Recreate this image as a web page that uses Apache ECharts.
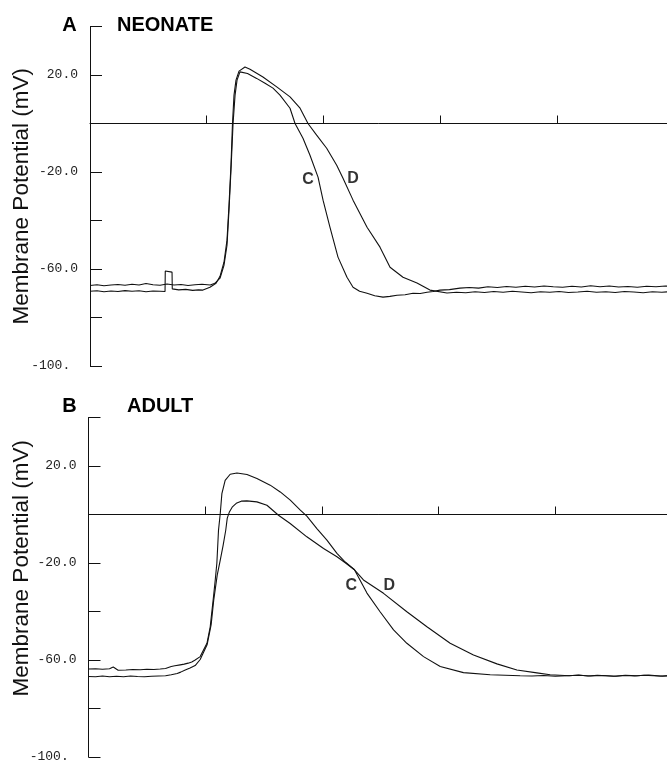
<!DOCTYPE html>
<html>
<head>
<meta charset="utf-8">
<script src="https://cdn.jsdelivr.net/npm/echarts@6/dist/echarts.min.js"></script>
<style>
  html, body { margin: 0; padding: 0; background: #fff; }
  #main { width: 667px; height: 763px; }
</style>
</head>
<body>
<div id="main"></div>
<script>
// time (ms) and membrane potential (mV)
// A: neonate
var neoC_t = [0, 6, 12, 18, 24, 30, 36, 42, 48, 54, 60, 66, 72, 78, 84, 90, 96,
  103, 107, 111.4, 114.8, 117.4, 119.1, 120.8, 122.6, 124.3, 126, 128.5,
  135, 142.8, 150, 156.8, 162.8, 171.4, 175.7, 182.5, 188.5, 195.4, 199.7, 205.6, 212.5, 220.2, 225.4, 231, 237.4, 244, 251.1, 257, 263.1, 270, 276.8, 283, 288.8, 294, 299.9, 308, 317,
  325, 333, 341, 349, 357, 365, 373, 381, 389, 397, 405, 413, 421, 429, 437, 445, 453, 461, 469, 477, 485, 493, 500]
var neoC_v = [-66.8, -66.5, -66.9, -66.6, -66.4, -66.7, -66.3, -66.6, -66.0, -66.5, -66.7, -66.2, -66.6, -66.4, -66.8, -66.5, -66.3,
  -66.6, -65.9, -63.8, -58.5, -50.2, -35.8, -19.3, 0.1, 11.7, 17.9, 21.3,
  20.6, 18.6, 16.6, 14.6, 11.7, 6.3, 0, -6.1, -13.1, -22.1, -31.6, -42.7, -55.1, -63.4, -67.5, -69.2, -70.0, -71.0, -71.6, -71.3, -70.8, -70.6, -70.0, -70.1, -69.6, -69.3, -68.7, -68.5, -67.9,
  -67.6, -67.9, -67.3, -67.6, -67.2, -67.5, -67.1, -67.4, -67.0, -67.3, -67.5, -67.1, -67.4, -66.9, -67.3, -67.0, -67.4, -67.2, -67.5, -67.1, -67.3, -67.0, -67.2]

var neoD_t = [0, 6, 12, 18, 24, 30, 36, 42, 48, 54, 60, 64.3, 64.5, 70.3, 70.5, 76, 82, 88, 93,
  96.8, 102.8, 108, 111.4, 114.8, 117.4, 119.1, 120.8, 122.1, 123.4, 125.1, 127.7, 132.8,
  137.1, 148.2, 160, 171.4, 180, 186.8, 194.2, 202.8, 211.4, 216.8, 225.4, 237.4, 248.5, 257.1, 268.2, 280.2, 291.3, 305.9,
  314, 322, 330, 338, 346, 354, 362, 370, 378, 386, 394, 402, 410, 418, 426, 434, 442, 450, 458, 466, 474, 482, 490, 498, 500]
var neoD_v = [-69.2, -69.0, -69.4, -69.1, -69.3, -68.9, -69.2, -69.0, -69.4, -69.1, -69.2, -69.3, -60.8, -61.3, -68.2, -68.6, -68.4, -68.8, -68.6,
  -68.7, -67.5, -65.9, -63.0, -57.2, -48.1, -33.7, -17.2, 0.1, 11.7, 17.9, 21.6, 23.3,
  22.4, 19.2, 15.1, 11.0, 6.3, 0, -4.8, -10.2, -17.2, -22.6, -31.6, -42.8, -51.0, -59.3, -63.4, -65.8, -68.7, -69.9,
  -69.6, -69.8, -69.4, -69.7, -69.3, -69.6, -69.2, -69.5, -69.8, -69.4, -69.6, -69.3, -69.7, -69.5, -69.2, -69.6, -69.4, -69.7, -69.3, -69.5, -69.8, -69.4, -69.6, -69.3, -69.5]

// B: adult
var adC_t = [0, 6, 12, 18, 21.2, 25.4, 32, 38, 44.3, 50, 56, 61.4, 66, 70.9, 74, 78.6, 82, 85.4, 88.5, 91.4, 95.7,
  101.5, 104.3, 107.1, 108.6, 110, 111.4, 112.9, 114.3, 117.1, 121.4, 127.2,
  135.8, 144.3, 155.7, 164.3, 172.9, 181.5, 187.1, 195.7, 204.3, 212.9, 220, 227.9, 238.6, 250, 261.4, 272.8, 287.1, 301.4, 321.3, 344.2, 369.9,
  380, 390, 400, 410, 420, 430, 440, 450, 460, 470, 480, 490, 500]
var adC_v = [-63.7, -63.6, -63.8, -63.6, -62.9, -64.2, -64.1, -63.9, -64.0, -63.8, -63.9, -63.7, -63.5, -62.7, -62.4, -62.0, -61.7, -61.3, -60.8, -60.0, -58.6,
  -53.1, -46.3, -33.9, -27.0, -20.0, -6.5, 0.4, 8.6, 14.1, 16.6, 17.1,
  16.5, 14.8, 12.1, 9.3, 5.9, 1.8, -0.7, -5.8, -10.6, -16.0, -19.6, -22.8, -32.4, -40.2, -47.6, -53.1, -58.6, -62.7, -65.2, -66.1, -66.5,
  -66.6, -66.4, -66.7, -66.5, -66.3, -66.6, -66.4, -66.7, -66.3, -66.5, -66.2, -66.6, -66.4]

var adD_t = [0, 6, 12, 18, 24, 30, 36, 42, 48, 54, 60, 66, 70.9, 76, 79, 82.9, 87, 91.4, 95.7,
  101.7, 105.1, 107.3, 110.3, 112.9, 115.4, 117.6, 118.9, 120.6, 123.1, 126.6, 130.9, 135.7,
  144.3, 152.9, 162.8, 172.8, 187.1, 201.4, 212.9, 220, 227.9, 235.6, 252.8, 272.8, 290, 309.9, 329.9, 350, 367.1, 384.2, 395.6,
  404, 412, 420, 428, 436, 444, 452, 460, 468, 476, 484, 492, 500]
var adD_v = [-66.8, -66.9, -66.6, -66.9, -66.7, -66.9, -66.6, -66.8, -66.9, -66.7, -66.6, -66.5, -66.1, -65.6, -65.0, -64.1, -63.3, -62.3, -59.8,
  -53.6, -45.4, -35.3, -25.0, -18.8, -12.6, -6.5, -1.5, 0.9, 3.0, 4.6, 5.5, 5.6,
  5.2, 3.8, -0.3, -3.7, -9.2, -14.0, -17.4, -19.9, -22.8, -27.0, -32.5, -40.1, -46.3, -53.1, -57.9, -61.6, -64.1, -65.3, -66.1,
  -66.3, -66.5, -66.2, -66.6, -66.3, -66.5, -66.7, -66.4, -66.6, -66.3, -66.5, -66.7, -66.4]

// trace labels
var traceNames = ['C', 'D']
var neoLabel_t = [186.8, 225.4]
var neoLabel_v = [-23.0, -22.6]
var adLabel_t = [225.1, 257.7]
var adLabel_v = [-29.5, -29.5]

// y tick labels (only every other tick is labelled)
var yLabelValues = [20, -20, -60, -100]
var yLabelText = ['20.0', '-20.0', '-60.0', '-100. ']

function zip(t, v) {
  if (t.length !== v.length) throw new Error('length mismatch ' + t.length + ' ' + v.length)
  return t.map(function (x, i) { return [x, v[i]] })
}

function yAxisFor(idx, gap, pad) {
  return {
    gridIndex: idx,
    type: 'value',
    min: -100,
    max: 40,
    interval: 20,
    name: 'Membrane Potential (mV)',
    nameLocation: 'middle',
    nameGap: gap,
    nameMoveOverlap: false,
    nameTextStyle: { fontFamily: 'Liberation Sans', fontSize: 22.5, color: '#111', padding: pad },
    axisLine: { show: true, onZero: false, lineStyle: { color: '#111', width: 1 } },
    axisTick: { show: true, inside: true, length: 12, lineStyle: { color: '#111', width: 1 } },
    axisLabel: {
      margin: 12,
      fontFamily: 'Liberation Mono',
      fontSize: 13,
      color: '#222',
      formatter: function (val) {
        var i = yLabelValues.indexOf(Math.round(val))
        return i < 0 ? '' : yLabelText[i]
      },
    },
    splitLine: { show: false },
  }
}

function xAxisFor(idx) {
  return {
    gridIndex: idx,
    type: 'value',
    min: 0,
    max: 500,
    interval: 100,
    axisLine: { show: true, onZero: true, lineStyle: { color: '#111', width: 1 } },
    axisTick: { show: true, inside: true, length: 8, lineStyle: { color: '#111', width: 1 } },
    axisLabel: { show: false },
    splitLine: { show: false },
  }
}

function trace(idx, t, v) {
  return {
    type: 'line',
    xAxisIndex: idx,
    yAxisIndex: idx,
    data: zip(t, v),
    showSymbol: false,
    symbol: 'none',
    silent: true,
    lineStyle: { color: '#111', width: 1.1 },
  }
}

function labels(idx, t, v) {
  return {
    type: 'scatter',
    xAxisIndex: idx,
    yAxisIndex: idx,
    symbolSize: 0,
    silent: true,
    data: traceNames.map(function (n, i) { return { name: n, value: [t[i], v[i]] } }),
    label: {
      show: true,
      position: 'inside',
      formatter: '{b}',
      fontFamily: 'Liberation Sans',
      fontWeight: 'bold',
      fontSize: 16,
      color: '#000',
    },
  }
}

var titleFont = 'bold 20px "Liberation Sans", Arial, sans-serif'

var myChart = echarts.init(document.getElementById('main'), null, { renderer: 'canvas' })
myChart.setOption({
  animation: false,
  backgroundColor: '#fff',
  grid: [
    { left: 90, top: 26.5, width: 583.5, height: 339.5, outerBoundsMode: 'none', containLabel: false },
    { left: 88.5, top: 417.5, width: 583.5, height: 339.5, outerBoundsMode: 'none', containLabel: false },
  ],
  xAxis: [xAxisFor(0), xAxisFor(1)],
  yAxis: [yAxisFor(0, 57, 0), yAxisFor(1, 55.5, [0, 0, 0, 38])],
  graphic: [
    { type: 'text', x: 69.5, y: 25, style: { text: 'A', font: titleFont, align: 'center', verticalAlign: 'middle', fill: '#000' } },
    { type: 'text', x: 117, y: 25, style: { text: 'NEONATE', font: titleFont, align: 'left', verticalAlign: 'middle', fill: '#000' } },
    { type: 'text', x: 69.5, y: 406.5, style: { text: 'B', font: titleFont, align: 'center', verticalAlign: 'middle', fill: '#000' } },
    { type: 'text', x: 127, y: 406.5, style: { text: 'ADULT', font: titleFont, align: 'left', verticalAlign: 'middle', fill: '#000' } },
  ],
  series: [
    trace(0, neoC_t, neoC_v),
    trace(0, neoD_t, neoD_v),
    trace(1, adC_t, adC_v),
    trace(1, adD_t, adD_v),
    labels(0, neoLabel_t, neoLabel_v),
    labels(1, adLabel_t, adLabel_v),
  ],
})
</script>
</body>
</html>
